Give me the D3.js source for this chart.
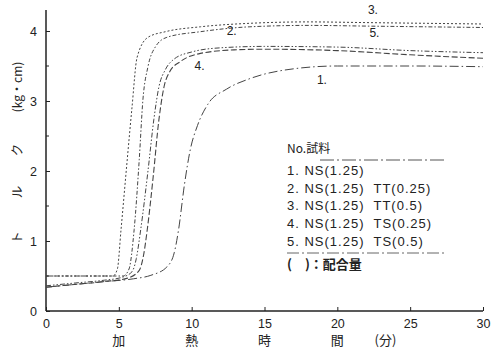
<!DOCTYPE html>
<html><head><meta charset="utf-8">
<script src="https://cdn.jsdelivr.net/npm/d3@7"></script>
<style>
html,body{margin:0;padding:0;background:#fff;}
svg{display:block;}
text{fill:#222;}
</style></head>
<body>
<svg id="c" width="492" height="354"></svg>
<script>
// ---- data ----
const xTicks = [0, 5, 10, 15, 20, 25, 30];
const yTicks = [0, 1, 2, 3, 4];
const yMinorTicks = [0.5, 1.5, 2.5, 3.5];

const t1 = [0, 2, 4, 6, 7.2, 8.3, 8.8, 9.1, 9.5, 9.9, 10.4, 11.1, 12.4, 14, 17, 20, 25, 30];
const v1 = [0.34, 0.38, 0.42, 0.46, 0.51, 0.63, 0.83, 1.16, 1.8, 2.3, 2.65, 2.95, 3.17, 3.32, 3.46, 3.5, 3.5, 3.49];

const t2 = [0, 3, 5.3, 5.7, 6.05, 6.4, 6.65, 7.0, 7.5, 8.3, 10.6, 14, 18, 22, 26, 30];
const v2 = [0.5, 0.5, 0.5, 0.6, 1.16, 2.16, 3.01, 3.49, 3.77, 3.91, 3.99, 4.06, 4.08, 4.07, 4.06, 4.05];

const t3 = [0, 3, 4.6, 4.9, 5.15, 5.55, 5.9, 6.25, 7.0, 8.2, 10.6, 14, 18, 22, 26, 30];
const v3 = [0.5, 0.5, 0.5, 0.6, 1.16, 2.1, 2.9, 3.62, 3.91, 3.99, 4.06, 4.11, 4.13, 4.12, 4.11, 4.1];

const t4 = [0, 2, 4, 5.6, 6.4, 6.7, 6.95, 7.35, 7.75, 8.1, 8.5, 9.2, 10.6, 12.9, 15, 20, 25, 30];
const v4 = [0.34, 0.38, 0.42, 0.47, 0.58, 0.8, 1.16, 1.9, 2.73, 3.2, 3.42, 3.56, 3.68, 3.73, 3.74, 3.72, 3.66, 3.61];

const t5 = [0, 2, 4, 5.2, 5.9, 6.2, 6.5, 7.0, 7.4, 7.75, 8.2, 8.8, 10, 12, 15, 20, 25, 30];
const v5 = [0.36, 0.4, 0.44, 0.48, 0.56, 0.75, 1.16, 2.0, 2.73, 3.2, 3.45, 3.6, 3.7, 3.76, 3.78, 3.77, 3.72, 3.69];

const seriesNames = ["1.", "2.", "3.", "4.", "5."];
const legendTitle = "No.試料";
const legendItems = ["1. NS(1.25)", "2. NS(1.25)  TT(0.25)", "3. NS(1.25)  TT(0.5)", "4. NS(1.25)  TS(0.25)", "5. NS(1.25)  TS(0.5)"];
const legendNote = "(　)：配合量";
const xLabelChars = ["加", "熱", "時", "間", "(分)"];
const xLabelPos = [5, 10, 15, 20, 23.3];
const yLabelChars = ["ト", "ル", "ク"];
const yLabelPos = [1.05, 1.7, 2.3];
const yUnit = "(kg・cm)";
const yUnitPos = 3.2;
// series label anchors (time, value)
const labT = [18.6, 12.4, 22.1, 10.2, 22.2];
const labV = [3.25, 3.95, 4.24, 3.45, 3.92];

// ---- chart ----
const svg = d3.select("#c");
const x = d3.scaleLinear().domain([0, 30]).range([46, 483]);
const y = d3.scaleLinear().domain([0, 4]).range([311, 31]);

const axisColor = "#222";
svg.append("line").attr("x1", x(0)).attr("x2", x(0)).attr("y1", y(4.3)).attr("y2", y(0))
  .attr("stroke", axisColor).attr("stroke-width", 1.5);
svg.append("line").attr("x1", x(0)).attr("x2", x(30)).attr("y1", y(0)).attr("y2", y(0))
  .attr("stroke", axisColor).attr("stroke-width", 1.3);

const yAx = d3.axisLeft(y).tickValues(yTicks).tickSize(-4).tickPadding(9).tickFormat(d3.format("d"));
const gy = svg.append("g").attr("transform", `translate(${x(0)},0)`).call(yAx);
gy.select(".domain").remove();
gy.selectAll("line").attr("stroke", axisColor);
gy.selectAll("text").attr("font-family", "Liberation Sans, Arial, sans-serif").attr("font-size", 12.5).attr("fill", "#222");
svg.append("g").selectAll("line").data(yMinorTicks).join("line")
  .attr("x1", x(0)).attr("x2", x(0) + 3).attr("y1", d => y(d)).attr("y2", d => y(d)).attr("stroke", axisColor);

const xAx = d3.axisBottom(x).tickValues(xTicks).tickSize(-4).tickPadding(8).tickFormat(d3.format("d"));
const gx = svg.append("g").attr("transform", `translate(0,${y(0)})`).call(xAx);
gx.select(".domain").remove();
gx.selectAll("line").attr("stroke", axisColor);
gx.selectAll("text").attr("font-family", "Liberation Sans, Arial, sans-serif").attr("font-size", 12.5).attr("fill", "#222");

// curves
const series = [
  {t: t1, v: v1, dash: "9,3,1.5,3", w: 1},
  {t: t2, v: v2, dash: "4,2,1.5,2", w: 1},
  {t: t3, v: v3, dash: "2,2", w: 1},
  {t: t4, v: v4, dash: "6,2.5", w: 1.1},
  {t: t5, v: v5, dash: "5,2,1.5,2,1.5,2", w: 1}
];
const line = d3.line().x(d => x(d[0])).y(d => y(d[1])).curve(d3.curveMonotoneX);
series.forEach(s => {
  svg.append("path").datum(s.t.map((tt, i) => [tt, s.v[i]]))
    .attr("d", line).attr("fill", "none").attr("stroke", "#444")
    .attr("stroke-width", s.w).attr("stroke-dasharray", s.dash);
});

// series labels
svg.append("g").selectAll("text").data(seriesNames).join("text")
  .attr("x", (d, i) => x(labT[i])).attr("y", (d, i) => y(labV[i]))
  .attr("font-family", "Liberation Sans, Arial, sans-serif").attr("font-size", 12)
  .text(d => d);

// legend
const lg = svg.append("g").attr("font-family", "'Noto Sans CJK JP', sans-serif").attr("font-size", 13);
lg.append("text").attr("x", 287).attr("y", 153).attr("font-size", 12).text(legendTitle);
lg.append("line").attr("x1", 320).attr("x2", 446).attr("y1", 160).attr("y2", 160)
  .attr("stroke", "#555").attr("stroke-dasharray", "14,3,2,3");
lg.selectAll("text.item").data(legendItems).join("text").attr("class", "item")
  .attr("x", 287).attr("y", (d, i) => 175 + i * 17.7)
  .attr("font-family", "Liberation Sans, Arial, sans-serif").attr("letter-spacing", 1)
  .attr("xml:space", "preserve").style("white-space", "pre").text(d => d);
lg.append("line").attr("x1", 287).attr("x2", 447).attr("y1", 253).attr("y2", 253)
  .attr("stroke", "#666").attr("stroke-dasharray", "12,3,2,3");
lg.append("text").attr("x", 287).attr("y", 269).attr("font-weight", "bold").text(legendNote);

// axis titles
const xl = svg.append("g").attr("font-family", "'Noto Sans CJK JP', sans-serif").attr("font-size", 13);
xl.selectAll("text").data(xLabelChars).join("text")
  .attr("x", (d, i) => x(xLabelPos[i])).attr("y", 345).attr("text-anchor", "middle").text(d => d);
const yl = svg.append("g").attr("font-family", "'Noto Sans CJK JP', sans-serif").attr("font-size", 12.5);
yl.selectAll("text").data(yLabelChars).join("text")
  .attr("transform", (d, i) => `translate(22,${y(yLabelPos[i])}) rotate(-90)`)
  .attr("text-anchor", "middle").text(d => d);
yl.append("text").attr("transform", `translate(22,${y(yUnitPos)}) rotate(-90)`)
  .attr("text-anchor", "middle").attr("font-size", 12).text(yUnit);
</script>
</body></html>
